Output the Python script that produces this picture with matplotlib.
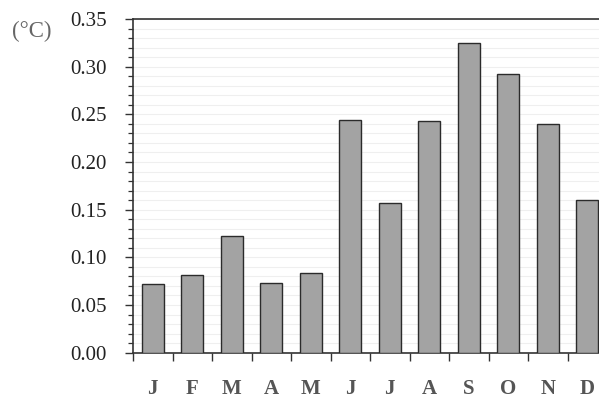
import matplotlib
matplotlib.use("Agg")
import matplotlib.pyplot as plt
import numpy as np
from matplotlib.ticker import MultipleLocator

months = ["J", "F", "M", "A", "M", "J", "J", "A", "S", "O", "N", "D"]
values = [0.072, 0.081, 0.122, 0.073, 0.084, 0.244, 0.157, 0.243, 0.325, 0.292, 0.240, 0.160]
yticks = [0.00, 0.05, 0.10, 0.15, 0.20, 0.25, 0.30, 0.35]
unit_label = "(°C)"

plt.rcParams['font.family'] = ['Liberation Serif', 'DejaVu Serif']

fig = plt.figure(figsize=(5.99, 3.98), dpi=100)
ax = fig.add_axes([133/599, 1-352.7/398, (12*39.5)/599, (352.7-19)/398])

x = np.arange(len(months))
ax.bar(x, values, width=0.55, color="#a3a3a3", edgecolor="#2b2b2b", linewidth=1.0, zorder=3)

ax.set_xlim(-0.5, 11.5)
ax.set_ylim(0, 0.35)
ax.set_yticks(yticks)
ax.set_yticklabels([f"{v:.2f}" for v in yticks])
ax.yaxis.set_minor_locator(MultipleLocator(0.01))
ax.grid(axis='y', which='both', color="#efefef", linewidth=0.8, zorder=0)
ax.set_axisbelow(True)

ax.set_xticks(np.arange(len(months)+1) - 0.5)
ax.set_xticklabels([])
ax.set_xticks(x, minor=True)
ax.set_xticklabels(months, minor=True, fontweight='bold', color="#555555", fontsize=15)
ax.tick_params(axis='x', which='minor', length=0, pad=19)
ax.tick_params(axis='x', which='major', length=6, width=1.0, color="#333333", direction='out')
ax.tick_params(axis='y', which='major', length=6, width=1.0, color="#333333", labelsize=15, labelcolor="#222222", pad=13)
ax.tick_params(axis='y', which='minor', length=3.5, width=0.9, color="#333333")

for s in ax.spines.values():
    s.set_color("#333333")
    s.set_linewidth(1.2)

fig.text(32/599, 1-31/398, unit_label, ha='center', va='center', fontsize=16.5, color="#666666")

fig.savefig("out.png", dpi=100)
